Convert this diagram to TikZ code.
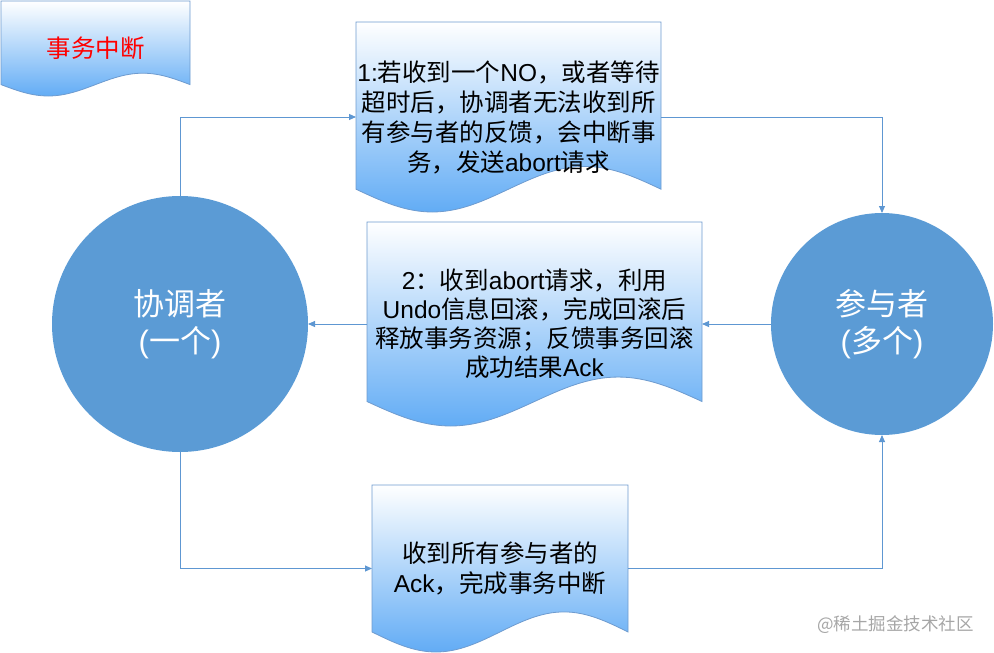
\documentclass[tikz,border=0pt]{standalone}
\usepackage{fontspec}
\setmainfont{Noto Sans CJK SC}
\newfontfamily\lat{Liberation Sans}
\usetikzlibrary{arrows.meta,calc,backgrounds}
\definecolor{circblue}{HTML}{5B9BD5}
\definecolor{lineblue}{HTML}{5E97D2}
\definecolor{docedge}{HTML}{6E9BCF}
\definecolor{docbot}{RGB}{98,172,245}
\definecolor{wmgray}{HTML}{A6A6A6}
\tikzset{
  docbox/.style={draw=none, inner sep=0pt, outer sep=0pt, align=center,
    font=\fontsize{24.5}{30}\selectfont},
  docfill/.style={top color=white, bottom color=docbot, draw=docedge, line width=0.8pt},
  actor/.style={circle, fill=circblue, draw=none, inner sep=0pt, outer sep=0pt,
    text=white, align=center, font=\fontsize{31}{37}\selectfont},
  conn/.style={draw=lineblue, line width=0.9pt, -{Triangle[length=7pt,width=6pt]}},
  watermark/.style={text=wmgray, font=\fontsize{17.5}{20}\selectfont, inner sep=0pt}
}
\newcommand{\docpath}[1]{%
  \shadedraw[docfill] let \p1=(#1.north west), \p2=(#1.south east),
    \n1={0.12*(\y1-\y2)}, \n2={\x2-\x1} in
    (\x1,\y1) -- (\x2,\y1) -- (\x2,\y2+\n1)
    sin (\x1+0.75*\n2,\y2+2*\n1) cos (\x1+0.5*\n2,\y2+\n1)
    sin (\x1+0.25*\n2,\y2) cos (\x1,\y2+\n1) -- cycle;}
\begin{document}
\begin{tikzpicture}[x=1pt,y=-1pt]
\useasboundingbox (0,0) rectangle (994,653);
% title document
\node[docbox, minimum width=189pt, minimum height=95pt, text=red] (t) at (95.5,48.5) {事务中断};
% circles
\node[actor, minimum size=256pt] (L) at (180,324) {协调者\\{\lat(}一个{\lat)}};
\node[actor, minimum size=222pt] (R) at (882,324) {参与者\\{\lat(}多个{\lat)}};
% documents
\node[docbox, minimum width=305pt, minimum height=190pt] (b1) at (508.5,117)
  {{\lat 1:}若收到一个{\lat NO}，或者等待\\超时后，协调者无法收到所\\有参与者的反馈，会中断事\\务，发送{\lat abort}请求};
\node[docbox, minimum width=335pt, minimum height=204pt,
  font=\fontsize{24.5}{29}\selectfont] (b2) at (534.5,324)
  {{\lat 2}：收到{\lat abort}请求，利用\\{\lat Undo}信息回滚，完成回滚后\\释放事务资源；反馈事务回滚\\成功结果{\lat Ack}};
\node[docbox, minimum width=256pt, minimum height=167pt] (b3) at (500,568.5)
  {收到所有参与者的\\{\lat Ack}，完成事务中断};
\begin{scope}[on background layer]
  \docpath{t}
  \docpath{b1}
  \docpath{b2}
  \docpath{b3}
\end{scope}
% connectors
\draw[conn] (L.north) |- (b1.west);
\draw[conn] (b1.east) -| (R.north);
\draw[conn] (R.west) -- (b2.east);
\draw[conn] (b2.west) -- (L.east);
\draw[conn] (L.south) |- (b3.west);
\draw[conn] (b3.east) -| (R.south);
% watermark
\node[watermark, anchor=east] (wm) at (974,625) {@稀土掘金技术社区};
\end{tikzpicture}
\end{document}
